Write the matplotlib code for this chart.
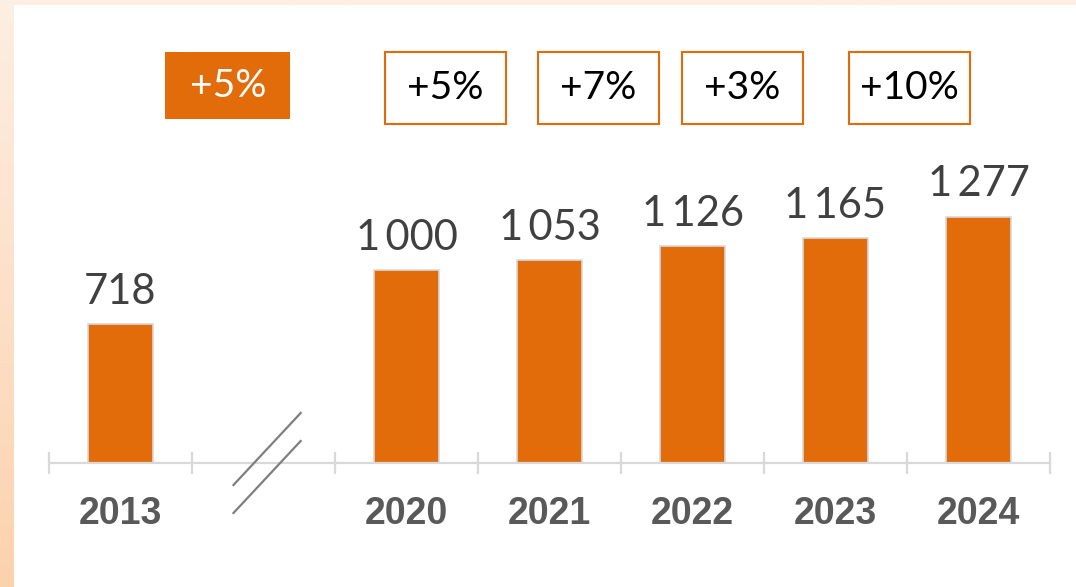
import numpy as np
import matplotlib
matplotlib.use("Agg")
import matplotlib.pyplot as plt
from matplotlib.patches import Rectangle
from matplotlib.transforms import blended_transform_factory

# ---- data ----
years = ["2013", "2020", "2021", "2022", "2023", "2024"]
values = [718, 1000, 1053, 1126, 1165, 1277]
growth_labels = ["+5%", "+5%", "+7%", "+3%", "+10%"]

# ---- layout ----
slots = [0, 2, 3, 4, 5, 6]          # slot 1 is left empty for the axis break
break_slot = 1
growth_x = [0.75, 2.27, 3.34, 4.35, 5.52]   # centres of the growth boxes (slot units)

ORANGE = "#E36C0A"
W, H, DPI = 1076, 587, 100
px_per_unit = 0.193                  # vertical scale: pixels per value unit
base_px = 463                        # baseline, pixels from top
top_px = 5

fig = plt.figure(figsize=(W / DPI, H / DPI), dpi=DPI)

# background: soft peach gradient with a white panel on top
bg = fig.add_axes([0, 0, 1, 1], zorder=0)
bg.set_xlim(0, W)
bg.set_ylim(H, 0)
bg.axis("off")
c_top = np.array(matplotlib.colors.to_rgb("#fdefe3"))
c_bot = np.array(matplotlib.colors.to_rgb("#fcd2ad"))
t = np.linspace(0, 1, 256)[:, None]
grad = (c_top * (1 - t) + c_bot * t)[:, None, :].repeat(2, axis=1)
bg.imshow(grad, extent=[0, W, H, 0], aspect="auto")
bg.add_patch(Rectangle((14, 5), W - 14, H - 5, facecolor="white", edgecolor="none"))

# main chart axes
left, right = 49, 1050
ax = fig.add_axes([left / W, (H - base_px) / H, (right - left) / W, (base_px - top_px) / H],
                  zorder=1)
ax.patch.set_alpha(0)
ax.set_xlim(-0.5, 6.5)
ax.set_ylim(0, (base_px - top_px) / px_per_unit)

ax.bar(slots, values, width=0.46, color=ORANGE, edgecolor="#d9d9d9", linewidth=1.2, zorder=2)

for x, v in zip(slots, values):
    ax.annotate(f"{v:,}".replace(",", "\u2009"), (x, v), xytext=(0, 14.5),
                textcoords="offset points", ha="center", va="baseline", fontsize=30,
                family=["Lato", "DejaVu Sans"], color="#404040")

for s in ["left", "right", "top"]:
    ax.spines[s].set_visible(False)
ax.spines["bottom"].set_color("#d9d9d9")
ax.spines["bottom"].set_linewidth(1.6)
ax.set_yticks([])

labels = [""] * 7
for x, y in zip(slots, years):
    labels[x] = y
ax.set_xticks(range(7), labels)
ax.set_xticks(np.arange(-0.5, 7, 1), minor=True)
ax.tick_params(axis="x", which="major", length=0, pad=24)
ax.tick_params(axis="x", which="minor", direction="inout", length=16.5, width=1.6, color="#d9d9d9")
for lbl in ax.get_xticklabels():
    lbl.set_fontsize(27)
    lbl.set_fontweight("bold")
    lbl.set_family("Liberation Sans")
    lbl.set_color("#595959")

# axis break marks
trb = blended_transform_factory(ax.transData, bg.transData)
bx = break_slot
for dy in (-14, 14):
    ax.plot([bx - 0.21, bx + 0.26], [base_px + dy + 36, base_px + dy - 36],
            transform=trb, color="#7f7f7f", lw=1.6, clip_on=False, zorder=3)

# growth boxes
box_w = 0.846
for i, (gx, g) in enumerate(zip(growth_x, growth_labels)):
    if i == 0:
        ax.add_patch(Rectangle((gx - 125 / 143 / 2, 52), 125 / 143, 67, transform=trb,
                               facecolor=ORANGE, edgecolor="none", clip_on=False, zorder=3))
        ax.text(gx, 86, g, transform=trb, ha="center", va="center", fontsize=28,
                family="Lato", color="white", zorder=4)
    else:
        ax.add_patch(Rectangle((gx - box_w / 2, 52), box_w, 72, transform=trb,
                               facecolor="white", edgecolor=ORANGE, lw=1.5, clip_on=False, zorder=3))
        ax.text(gx, 88, g, transform=trb, ha="center", va="center", fontsize=28,
                family="Lato", color="black", zorder=4)

fig.savefig("out.png", dpi=DPI)
